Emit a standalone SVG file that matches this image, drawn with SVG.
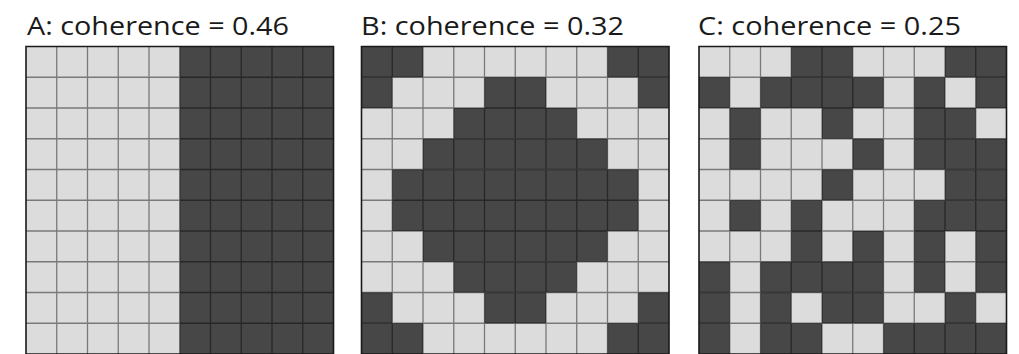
<svg xmlns="http://www.w3.org/2000/svg" width="1019" height="354" viewBox="0 0 1019 354">
<style>
.t{font-family:"Open Sans","Liberation Sans",sans-serif;font-size:26px;fill:#1a1a1a}
.l{fill:#dcdcdc}
.d{fill:#474747}
.g{fill:none;stroke:#000;stroke-opacity:0.45;stroke-width:1.3;vector-effect:non-scaling-stroke}
.b{fill:none;stroke:#1a1a1a;stroke-width:1.6;vector-effect:non-scaling-stroke}
</style>
<defs>
<path id="grid" class="g" d="M1 0V10M2 0V10M3 0V10M4 0V10M5 0V10M6 0V10M7 0V10M8 0V10M9 0V10M0 1H10M0 2H10M0 3H10M0 4H10M0 5H10M0 6H10M0 7H10M0 8H10M0 9H10"/>
</defs>
<rect width="1019" height="354" fill="#fff"/>
<g id="panelA">
<text class="t" x="27" y="35" textLength="262" lengthAdjust="spacingAndGlyphs">A: coherence = 0.46</text>
<g transform="translate(26,46.5) scale(30.75)">
<rect class="l" x="0" y="0" width="5" height="10"/>
<rect class="d" x="5" y="0" width="5" height="10"/>
<use href="#grid"/>
<rect class="b" x="0" y="0" width="10" height="10"/>
</g>
</g>
<g id="panelB">
<text class="t" x="361" y="35" textLength="263" lengthAdjust="spacingAndGlyphs">B: coherence = 0.32</text>
<g transform="translate(361.5,46.5) scale(30.75)">
<rect class="l" x="0" y="0" width="10" height="10"/>
<rect class="d" x="0" y="0" width="2" height="1"/><rect class="d" x="8" y="0" width="2" height="1"/>
<rect class="d" x="0" y="1" width="1" height="1"/><rect class="d" x="4" y="1" width="2" height="1"/><rect class="d" x="9" y="1" width="1" height="1"/>
<rect class="d" x="3" y="2" width="4" height="1"/>
<rect class="d" x="2" y="3" width="6" height="1"/>
<rect class="d" x="1" y="4" width="8" height="2"/>
<rect class="d" x="2" y="6" width="6" height="1"/>
<rect class="d" x="3" y="7" width="4" height="1"/>
<rect class="d" x="0" y="8" width="1" height="1"/><rect class="d" x="4" y="8" width="2" height="1"/><rect class="d" x="9" y="8" width="1" height="1"/>
<rect class="d" x="0" y="9" width="2" height="1"/><rect class="d" x="8" y="9" width="2" height="1"/>
<use href="#grid"/>
<rect class="b" x="0" y="0" width="10" height="10"/>
</g>
</g>
<g id="panelC">
<text class="t" x="698" y="35" textLength="263" lengthAdjust="spacingAndGlyphs">C: coherence = 0.25</text>
<g transform="translate(699,46.5) scale(30.75)">
<rect class="l" x="0" y="0" width="10" height="10"/>
<rect class="d" x="3" y="0" width="2" height="1"/><rect class="d" x="8" y="0" width="2" height="1"/>
<rect class="d" x="0" y="1" width="1" height="1"/><rect class="d" x="2" y="1" width="4" height="1"/><rect class="d" x="7" y="1" width="1" height="1"/><rect class="d" x="9" y="1" width="1" height="1"/>
<rect class="d" x="1" y="2" width="1" height="1"/><rect class="d" x="4" y="2" width="1" height="1"/><rect class="d" x="7" y="2" width="2" height="1"/>
<rect class="d" x="1" y="3" width="1" height="1"/><rect class="d" x="5" y="3" width="1" height="1"/><rect class="d" x="7" y="3" width="3" height="1"/>
<rect class="d" x="4" y="4" width="1" height="1"/><rect class="d" x="8" y="4" width="2" height="1"/>
<rect class="d" x="1" y="5" width="1" height="1"/><rect class="d" x="3" y="5" width="1" height="1"/><rect class="d" x="7" y="5" width="3" height="1"/>
<rect class="d" x="3" y="6" width="1" height="1"/><rect class="d" x="5" y="6" width="1" height="1"/><rect class="d" x="7" y="6" width="1" height="1"/><rect class="d" x="9" y="6" width="1" height="1"/>
<rect class="d" x="0" y="7" width="1" height="1"/><rect class="d" x="2" y="7" width="4" height="1"/><rect class="d" x="7" y="7" width="1" height="1"/><rect class="d" x="9" y="7" width="1" height="1"/>
<rect class="d" x="0" y="8" width="1" height="1"/><rect class="d" x="2" y="8" width="1" height="1"/><rect class="d" x="4" y="8" width="2" height="1"/><rect class="d" x="8" y="8" width="1" height="1"/>
<rect class="d" x="0" y="9" width="1" height="1"/><rect class="d" x="2" y="9" width="2" height="1"/><rect class="d" x="6" y="9" width="4" height="1"/>
<use href="#grid"/>
<rect class="b" x="0" y="0" width="10" height="10"/>
</g>
</g>
</svg>
